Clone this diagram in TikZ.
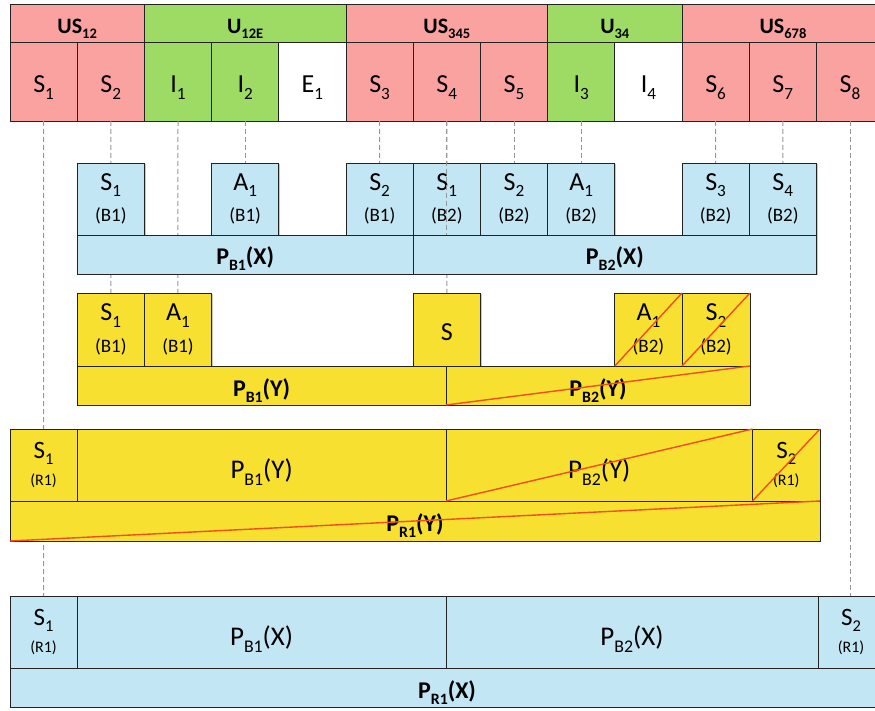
\documentclass[tikz,border=0pt]{standalone}
\usepackage{fontspec}
\setmainfont{Carlito}
\usetikzlibrary{shadows}
\definecolor{pinkc}{RGB}{250,162,160}
\definecolor{greenc}{RGB}{157,219,100}
\definecolor{bluec}{RGB}{194,230,244}
\definecolor{yellowc}{RGB}{247,224,48}
\definecolor{redc}{RGB}{240,78,30}
\definecolor{dashc}{RGB}{150,150,150}
\definecolor{edgec}{RGB}{35,35,35}
\newcommand\lo[1]{\raisebox{-0.25em}{\scalebox{0.66}{#1}}}
\newcommand\fs[1]{\fontsize{#1}{#1}\selectfont}
\newcommand\bx[7]{\node[box,#6,minimum width={#4pt-#2pt},minimum height={#5pt-#3pt}] (#1) at ({(#2+#4)/2},{(#3+#5)/2}) {#7};}
\newcommand\two[5]{{\fs{#1}#2}\\[#5]{\fs{#3}#4}}
\begin{document}
\begin{tikzpicture}[x=1pt,y=-1pt,
  box/.style={draw=edgec,line width=0.9pt,inner sep=0pt,outer sep=0pt,align=center,
    drop shadow={shadow xshift=1.2pt,shadow yshift=-1.2pt,opacity=0.22,fill=black}},
  pk/.style={fill=pinkc}, gr/.style={fill=greenc}, wh/.style={fill=white},
  bl/.style={fill=bluec}, ye/.style={fill=yellowc},
  hdr/.style={font=\fs{22}\bfseries,text height=23pt,text depth=2.4pt},
  top/.style={font=\fs{26},text height=26pt,text depth=3pt},
  barlab/.style={font=\fs{24}\bfseries,text height=23pt,text depth=2pt},
  big/.style={font=\fs{27},text height=30pt,text depth=3pt},
  one/.style={font=\fs{26},text height=24pt,text depth=3pt},
  dline/.style={draw=dashc,line width=1pt,dash pattern=on 5pt off 3pt},
  redl/.style={draw=redc,line width=1.4pt}]
\useasboundingbox (0,0) rectangle (875,711);
\clip (0,0) rectangle (875,711);

% ---------- header ----------
\bx{hUS12}{10}{4}{144.4}{42}{pk,hdr}{US\lo{12}}
\bx{hU12E}{144.4}{4}{346}{42}{gr,hdr}{U\lo{12E}}
\bx{hUS345}{346}{4}{547.6}{42}{pk,hdr}{US\lo{345}}
\bx{hU34}{547.6}{4}{682}{42}{gr,hdr}{U\lo{34}}
\bx{hUS678}{682}{4}{884}{42}{pk,hdr}{US\lo{678}}

\bx{tS1}{10}{42}{77.2}{121}{pk,top}{S\lo{1}}
\bx{tS2}{77.2}{42}{144.4}{121}{pk,top}{S\lo{2}}
\bx{tI1}{144.4}{42}{211.6}{121}{gr,top}{I\lo{1}}
\bx{tI2}{211.6}{42}{278.8}{121}{gr,top}{I\lo{2}}
\bx{tE1}{278.8}{42}{346}{121}{wh,top}{E\lo{1}}
\bx{tS3}{346}{42}{413.2}{121}{pk,top}{S\lo{3}}
\bx{tS4}{413.2}{42}{480.4}{121}{pk,top}{S\lo{4}}
\bx{tS5}{480.4}{42}{547.6}{121}{pk,top}{S\lo{5}}
\bx{tI3}{547.6}{42}{614.8}{121}{gr,top}{I\lo{3}}
\bx{tI4}{614.8}{42}{682}{121}{wh,top}{I\lo{4}}
\bx{tS6}{682}{42}{749.2}{121}{pk,top}{S\lo{6}}
\bx{tS7}{749.2}{42}{816.4}{121}{pk,top}{S\lo{7}}
\bx{tS8}{816.4}{42}{883.6}{121}{pk,top}{S\lo{8}}

% ---------- dashed guide lines (behind the lower boxes) ----------
\coordinate (yS1top) at (110.8,293);
\coordinate (yA1top) at (177.9,293);
\coordinate (bA1top) at (245.2,163);
\coordinate (bS2top) at (379.6,163);
\coordinate (ySTop) at (446.8,293);
\coordinate (bS2bTop) at (514,163);
\coordinate (bA1bTop) at (581.2,163);
\coordinate (bS3bTop) at (715.6,163);
\coordinate (bS4bTop) at (782.8,163);
\coordinate (wS1top) at (43.6,596);
\coordinate (wS2top) at (850,596);
\draw[dline] (tS1.south) -- (wS1top);
\draw[dline] (tS2.south) -- (yS1top);
\draw[dline] (tI1.south) -- (yA1top);
\draw[dline] (tI2.south) -- (bA1top);
\draw[dline] (tS3.south) -- (bS2top);
\draw[dline] (tS4.south) -- (ySTop);
\draw[dline] (tS5.south) -- (bS2bTop);
\draw[dline] (tI3.south) -- (bA1bTop);
\draw[dline] (tS6.south) -- (bS3bTop);
\draw[dline] (tS7.south) -- (bS4bTop);
\draw[dline] (tS8.south) -- (wS2top);

% ---------- row 2 (blue) ----------
\bx{bS1a}{77.2}{163}{144.4}{235}{bl}{\two{26}{S\lo{1}}{19}{(B1)}{10pt}}
\bx{bA1a}{211.6}{163}{278.8}{235}{bl}{\two{26}{A\lo{1}}{19}{(B1)}{10pt}}
\bx{bS2a}{346}{163}{413.2}{235}{bl}{\two{26}{S\lo{2}}{19}{(B1)}{10pt}}
\bx{bS1b}{413.2}{163}{480.4}{235}{bl}{\two{26}{S\lo{1}}{19}{(B2)}{10pt}}
\bx{bS2b}{480.4}{163}{547.6}{235}{bl}{\two{26}{S\lo{2}}{19}{(B2)}{10pt}}
\bx{bA1b}{547.6}{163}{614.8}{235}{bl}{\two{26}{A\lo{1}}{19}{(B2)}{10pt}}
\bx{bS3b}{682}{163}{749.2}{235}{bl}{\two{26}{S\lo{3}}{19}{(B2)}{10pt}}
\bx{bS4b}{749.2}{163}{816.4}{235}{bl}{\two{26}{S\lo{4}}{19}{(B2)}{10pt}}
\draw[dline] (tS4.south) -- (tS4.south |- bS1b.south);
\bx{bPB1}{77.2}{235}{413.2}{274}{bl,barlab}{P\lo{B1}(X)}
\bx{bPB2}{413.2}{235}{816.4}{274}{bl,barlab}{P\lo{B2}(X)}

% ---------- row 3 (yellow) ----------
\bx{yS1a}{77.2}{293}{144.4}{366}{ye}{\two{26}{S\lo{1}}{19}{(B1)}{10pt}}
\bx{yA1a}{144.4}{293}{211.6}{366}{ye}{\two{26}{A\lo{1}}{19}{(B1)}{10pt}}
\bx{yS}{413.2}{293}{480.4}{366}{ye,one}{S}
\bx{yA1b}{614.8}{293}{682}{366}{ye}{\two{26}{A\lo{1}}{19}{(B2)}{10pt}}
\bx{yS2b}{682}{293}{750}{366}{ye}{\two{26}{S\lo{2}}{19}{(B2)}{10pt}}
\bx{yPB1}{77.2}{366}{446}{405}{ye,barlab}{P\lo{B1}(Y)}
\bx{yPB2}{446}{366}{750}{405}{ye,barlab}{P\lo{B2}(Y)}
\draw[redl] (yA1b.south west) -- (yA1b.north east);
\draw[redl] (yS2b.south west) -- (yS2b.north east);
\draw[redl] (yPB2.south west) -- (yPB2.north east);

% ---------- row 4 (yellow) ----------
\bx{zS1}{10}{429}{77.2}{501}{ye}{\two{25}{S\lo{1}}{16}{(R1)}{9pt}}
\bx{zPB1}{77.2}{429}{446}{501}{ye,big}{P\lo{B1}(Y)}
\bx{zPB2}{446}{429}{752.5}{501}{ye,big}{P\lo{B2}(Y)}
\bx{zS2}{752.5}{429}{820}{501}{ye}{\two{25}{S\lo{2}}{16}{(R1)}{9pt}}
\bx{zPR1}{10}{501}{820}{541}{ye,barlab}{P\lo{R1}(Y)}
\draw[redl] (zPB2.south west) -- (zPB2.north east);
\draw[redl] (zS2.south west) -- (zS2.north east);
\draw[redl] (zPR1.south west) -- (zPR1.north east);

% ---------- row 5 (blue) ----------
\bx{wS1}{10}{596}{77.2}{668}{bl}{\two{25}{S\lo{1}}{16}{(R1)}{9pt}}
\bx{wPB1}{77.2}{596}{446}{668}{bl,big}{P\lo{B1}(X)}
\bx{wPB2}{446}{596}{818}{668}{bl,big}{P\lo{B2}(X)}
\bx{wS2}{818}{596}{884}{668}{bl}{\two{25}{S\lo{2}}{16}{(R1)}{9pt}}
\bx{wPR1}{10}{668}{884}{707}{bl,barlab}{P\lo{R1}(X)}
\end{tikzpicture}
\end{document}
